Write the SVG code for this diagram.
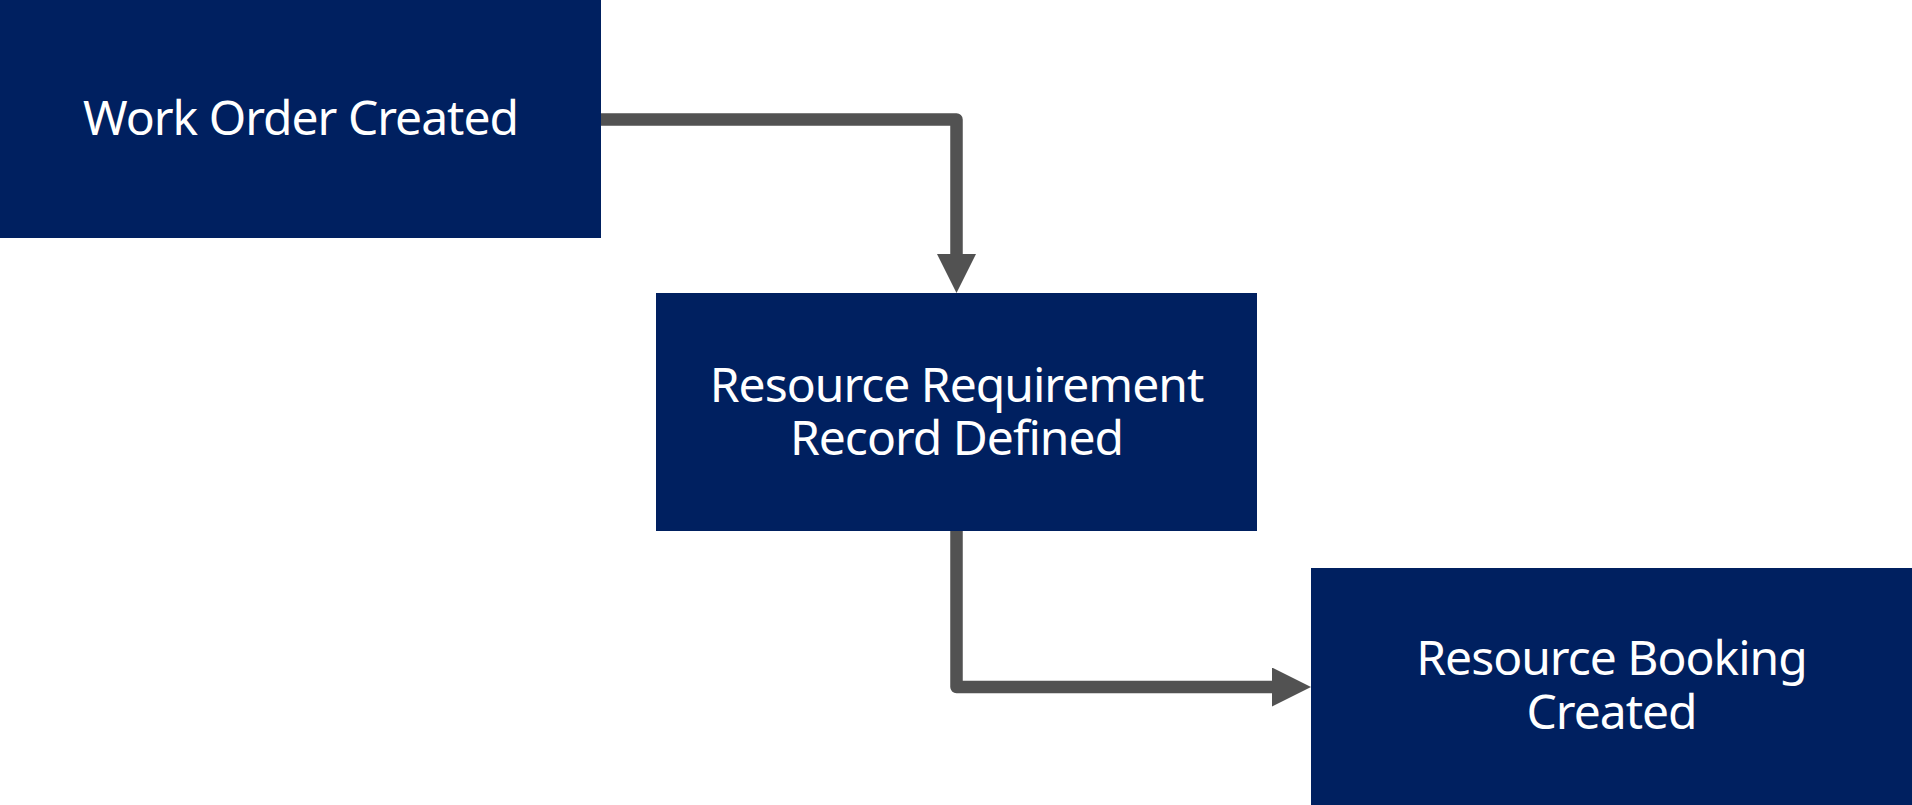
<svg xmlns="http://www.w3.org/2000/svg" width="1912" height="805" viewBox="0 0 1912 805">
  <style>
    .box { fill: #002060; }
    .lbl { fill: #ffffff; font-family: "Noto Sans", "Open Sans", "DejaVu Sans", sans-serif; font-size: 48px; letter-spacing: -1px; text-anchor: middle; }
    .conn { fill: none; stroke: #525252; stroke-width: 12.5; stroke-linejoin: round; }
  </style>
  <defs>
    <marker id="arrow" markerUnits="userSpaceOnUse" markerWidth="39" markerHeight="39" refX="2" refY="19.5" orient="auto">
      <path d="M0,0 L39,19.5 L0,39 Z" fill="#525252"/>
    </marker>
  </defs>
  <rect width="1912" height="805" fill="#ffffff"/>
  <g id="connectors">
    <path class="conn" d="M601,119.5 H956.5 V256" marker-end="url(#arrow)"/>
    <path class="conn" d="M956.5,531 V687 H1274" marker-end="url(#arrow)"/>
  </g>
  <g id="node-work-order">
    <rect class="box" x="0" y="0" width="601" height="238"/>
    <text class="lbl" x="300.5" y="135">Work Order Created</text>
  </g>
  <g id="node-resource-requirement">
    <rect class="box" x="656" y="293" width="601" height="238"/>
    <text class="lbl" x="956.5" y="402">Resource Requirement</text>
    <text class="lbl" x="956.5" y="455">Record Defined</text>
  </g>
  <g id="node-resource-booking">
    <rect class="box" x="1311" y="568" width="601" height="238"/>
    <text class="lbl" x="1611.5" y="675">Resource Booking</text>
    <text class="lbl" x="1611.5" y="729">Created</text>
  </g>
</svg>
